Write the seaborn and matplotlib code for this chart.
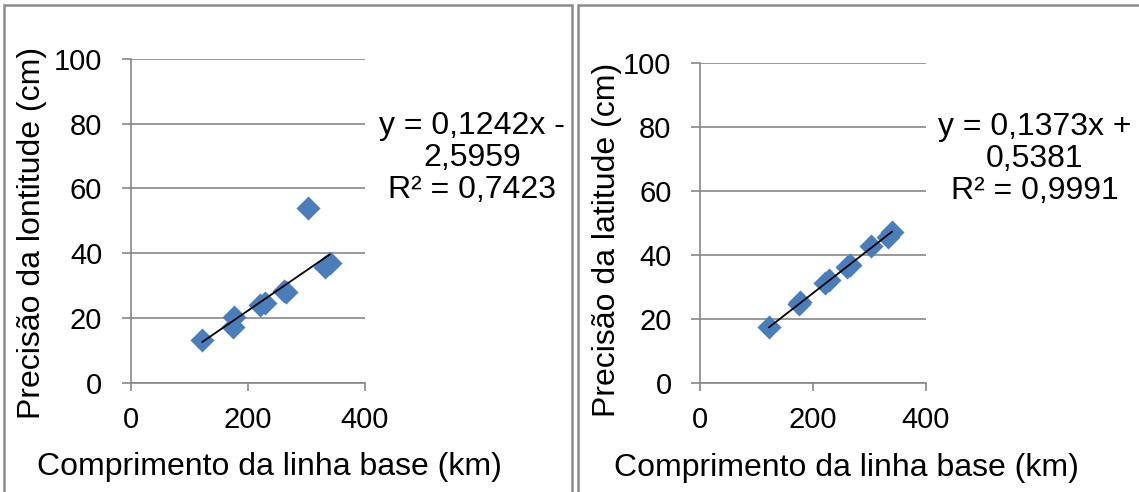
import numpy as np
import pandas as pd
import matplotlib
matplotlib.use("Agg")
import matplotlib.pyplot as plt
import seaborn as sns
from matplotlib.patches import Rectangle

# ---- data ----
baseline_km = [122, 175, 177, 221, 229, 261, 265, 302, 332, 340]
prec_lon_cm = [13.2, 17.1, 20.2, 24.0, 24.7, 28.4, 28.0, 53.9, 35.8, 36.9]
prec_lat_cm = [17.3, 24.6, 25.1, 31.3, 32.2, 36.3, 36.9, 42.8, 45.6, 47.2]

lon_coef = [0.1242, -2.5959]
lat_coef = [0.1373, 0.5381]

lon_eq = "y = 0,1242x -\n2,5959\nR² = 0,7423"
lat_eq = "y = 0,1373x +\n0,5381\nR² = 0,9991"

xlabel = "Comprimento da linha base (km)"
ylabel_lon = "Precisão da lontitude (cm)"
ylabel_lat = "Precisão da latitude (cm)"

xticks = [0, 200, 400]
yticks = [0, 20, 40, 60, 80, 100]

sns.set_theme(style="white")
plt.rcParams['font.family'] = ['Liberation Sans', 'DejaVu Sans']
plt.rcParams.update({
    "xtick.bottom": True, "ytick.left": True,
    "xtick.major.size": 6, "ytick.major.size": 6.5,
    "xtick.major.width": 1.2, "ytick.major.width": 1.2,
    "xtick.major.pad": 11, "ytick.major.pad": 14,
    "xtick.direction": "out", "ytick.direction": "out",
})

W, H = 1139, 492
fig = plt.figure(figsize=(W / 100, H / 100), dpi=100)

FS_TICK = 21
FS_TITLE = 23
FS_EQ = 23
GRID = "#878787"
BLUE = "#4A7EBB"


def px_rect(l, t, r, b):
    return [l / W, 1 - b / H, (r - l) / W, (b - t) / H]


def make_panel(rect, y, coef, eq, ylabel, eq_xy, ylab_xy, xlab_xy):
    ax = fig.add_axes(px_rect(*rect))
    df = pd.DataFrame({"x": baseline_km, "y": y})
    sns.scatterplot(data=df, x="x", y="y", ax=ax, marker="D", s=150,
                    color=BLUE, edgecolor=BLUE, linewidth=0, zorder=3)
    xs = np.array([min(baseline_km), max(baseline_km)])
    ax.plot(xs, coef[0] * xs + coef[1], color="black", lw=1.3, zorder=4)
    ax.set_xlim(0, 400)
    ax.set_ylim(0, 100)
    ax.set_xticks(xticks)
    ax.set_yticks(yticks)
    ax.set_xticklabels([str(v) for v in xticks], fontsize=FS_TICK)
    ax.set_yticklabels([str(v) for v in yticks], fontsize=FS_TICK)
    ax.yaxis.grid(True, color=GRID, lw=1.2)
    ax.xaxis.grid(False)
    for s in ["top", "right"]:
        ax.spines[s].set_visible(False)
    for s in ["left", "bottom"]:
        ax.spines[s].set_color(GRID)
        ax.spines[s].set_linewidth(1.2)
    ax.tick_params(colors=GRID, labelcolor="black")
    ax.set_xlabel("")
    ax.set_ylabel("")
    fig.text(ylab_xy[0] / W, 1 - ylab_xy[1] / H, ylabel, rotation=90,
             ha="center", va="center", fontsize=FS_TITLE, color="black")
    fig.text(xlab_xy[0] / W, 1 - xlab_xy[1] / H, xlabel,
             ha="center", va="center", fontsize=FS_TITLE, color="black")
    fig.text(eq_xy[0] / W, 1 - eq_xy[1] / H, eq, ha="center", va="center",
             fontsize=FS_EQ, linespacing=1.08, color="black")
    return ax


make_panel((130.7, 59, 365, 382.7), prec_lon_cm, lon_coef, lon_eq, ylabel_lon,
           (472, 158), (32, 233), (269, 467))
make_panel((700, 62.7, 926, 382.7), prec_lat_cm, lat_coef, lat_eq, ylabel_lat,
           (1035, 159), (607, 240), (846, 468))

# panel borders
for (l, t, r, b) in [(4, 4.5, 572, 520), (577.5, 4.5, 1160, 520)]:
    fig.patches.append(Rectangle((l / W, 1 - b / H), (r - l) / W, (b - t) / H,
                                 transform=fig.transFigure, fill=False,
                                 edgecolor="#8a8a8a", lw=1.8, zorder=0))

fig.savefig("out.png", dpi=100)
